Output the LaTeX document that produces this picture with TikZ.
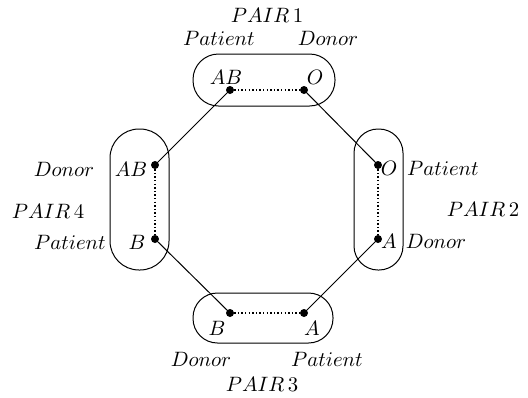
\documentclass[tikz,border=0pt]{standalone}
\begin{document}
\begin{tikzpicture}[x=1pt,y=-1pt,
  lbl/.style={font=\fontsize{10}{12}\selectfont, scale=2.08, inner sep=0pt, anchor=base},
  capsule/.style={draw, line width=1pt, inner sep=0pt, rectangle},
  dotnode/.style={circle, fill=black, inner sep=0pt, minimum size=8pt},
  link/.style={line width=1pt},
  pairlink/.style={line width=1.4pt, dash pattern=on 1.4pt off 2.2pt}]
\useasboundingbox (0,0) rectangle (528,397);
% capsules
\node[capsule, minimum width=142pt, minimum height=52pt, rounded corners=25.5pt] (c1) at (264,80) {};
\node[capsule, minimum width=140pt, minimum height=50pt, rounded corners=24.5pt] (c3) at (263,318) {};
\node[capsule, minimum width=59pt, minimum height=141pt, rounded corners=29pt] (c4) at (139.5,199.5) {};
\node[capsule, minimum width=49pt, minimum height=141pt, rounded corners=24pt] (c2) at (378.5,199.5) {};
% dots
\node[dotnode] (p1a) at (230,90) {};
\node[dotnode] (p1b) at (304,90) {};
\node[dotnode] (p2a) at (378,165) {};
\node[dotnode] (p2b) at (378,239) {};
\node[dotnode] (p3a) at (230,313) {};
\node[dotnode] (p3b) at (304,313) {};
\node[dotnode] (p4a) at (155,165) {};
\node[dotnode] (p4b) at (155,239) {};
% pair links
\draw[pairlink] (p1a) -- (p1b);
\draw[pairlink] (p2a) -- (p2b);
\draw[pairlink] (p3a) -- (p3b);
\draw[pairlink] (p4a) -- (p4b);
% cross links
\draw[link] (p1a.center) -- (p4a.center);
\draw[link] (p1b.center) -- (p2a.center);
\draw[link] (p2b.center) -- (p3b.center);
\draw[link] (p3a.center) -- (p4b.center);
% labels pair 1
\node[lbl] (t1) at (267,22) {$PAIR\,1$};
\node[lbl] (t1p) at (219,45) {$Patient$};
\node[lbl] (t1d) at (328,45) {$Donor$};
\node[lbl] (t1x) at (226,84) {$AB$};
\node[lbl] (t1y) at (315,84) {$O$};
% pair 2
\node[lbl] (t2) at (483,216) {$PAIR\,2$};
\node[lbl] (t2p) at (443,175) {$Patient$};
\node[lbl] (t2d) at (436,248) {$Donor$};
\node[lbl] (t2x) at (389,175) {$O$};
\node[lbl] (t2y) at (389,248) {$A$};
% pair 3
\node[lbl] (t3) at (262,391) {$PAIR\,3$};
\node[lbl] (t3d) at (201,366) {$Donor$};
\node[lbl] (t3p) at (327,366) {$Patient$};
\node[lbl] (t3x) at (217,335) {$B$};
\node[lbl] (t3y) at (312,335) {$A$};
% pair 4
\node[lbl] (t4) at (48,218) {$PAIR\,4$};
\node[lbl] (t4d) at (64,176) {$Donor$};
\node[lbl] (t4p) at (70,249) {$Patient$};
\node[lbl] (t4x) at (131,176) {$AB$};
\node[lbl] (t4y) at (137,249) {$B$};
\end{tikzpicture}
\end{document}
